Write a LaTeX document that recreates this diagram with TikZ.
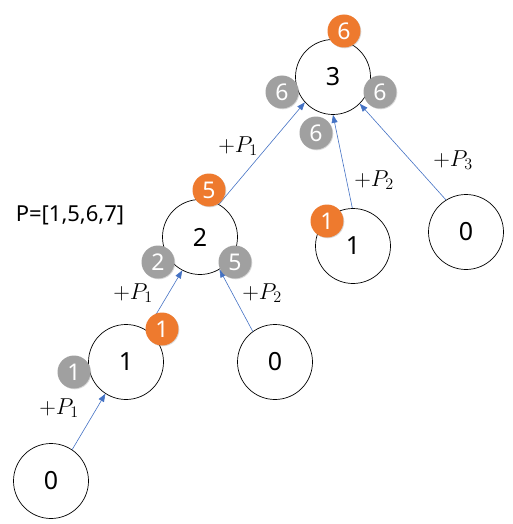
\documentclass[tikz,border=0pt]{standalone}
\usepackage{fix-cm}
\usepackage{fontspec}
\setmainfont{Noto Sans}
\usetikzlibrary{arrows.meta,shadows}
\definecolor{arrowblue}{HTML}{4472C4}
\definecolor{badgegray}{HTML}{A0A0A0}
\definecolor{badgeorange}{HTML}{EE7A2E}
\tikzset{
  treenode/.style={circle,draw=black,line width=0.7pt,fill=white,minimum size=75pt,inner sep=0pt,font=\fontsize{25}{25}\selectfont},
  badge/.style={circle,minimum size=33pt,inner sep=0pt,text=white,font=\fontsize{23}{23}\selectfont,
    drop shadow={shadow xshift=0.8pt,shadow yshift=-0.8pt,opacity=0.3}},
  graybadge/.style={badge,fill=badgegray},
  orangebadge/.style={badge,fill=badgeorange},
  edge/.style={draw=arrowblue,line width=0.6pt,-{Triangle[length=8pt,width=6pt]}},
  plabel/.style={font=\fontsize{23}{23}\selectfont},
}
\begin{document}
\begin{tikzpicture}[x=1pt,y=-1pt]
\useasboundingbox (0,0) rectangle (512,524);
% tree nodes
\node[treenode] (n3) at (333,77) {3};
\node[treenode] (n2) at (200,237) {2};
\node[treenode] (n1r) at (353,246) {1};
\node[treenode] (n0r) at (466,232) {0};
\node[treenode] (n1l) at (126,362) {1};
\node[treenode] (n0m) at (275,362) {0};
\node[treenode] (n0b) at (51,481) {0};
% edges
\draw[edge] (n2.60) -- (n3.222);
\draw[edge] (n1r.91) -- (n3.270);
\draw[edge] (n0r.122) -- (n3.315);
\draw[edge] (n1l.57) -- (n2.242);
\draw[edge] (n0m.126) -- (n2.301);
\draw[edge] (n0b.56) -- (n1l.237);
% labels
\node[plabel] (l1) at (238,146) {$+P_1$};
\node[plabel] (l2) at (374,180) {$+P_2$};
\node[plabel] (l3) at (453,160) {$+P_3$};
\node[plabel] (l4) at (133,293) {$+P_1$};
\node[plabel] (l5) at (262,293) {$+P_2$};
\node[plabel] (l6) at (59,408) {$+P_1$};
\node[font=\fontsize{22}{22}\selectfont] (plist) at (70,215) {P=[1,5,6,7]};
% badges
\node[orangebadge] (b6o) at (344,31) {6};
\node[graybadge] (b6l) at (282,92) {6};
\node[graybadge] (b6r) at (380,92) {6};
\node[graybadge] (b6b) at (316,133) {6};
\node[orangebadge] (b5o) at (209,190) {5};
\node[graybadge] (b2g) at (158,262) {2};
\node[graybadge] (b5g) at (235,262) {5};
\node[orangebadge] (b1o) at (162,329) {1};
\node[graybadge] (b1g) at (74,372) {1};
\node[orangebadge] (b1r) at (327,221) {1};
\end{tikzpicture}
\end{document}
